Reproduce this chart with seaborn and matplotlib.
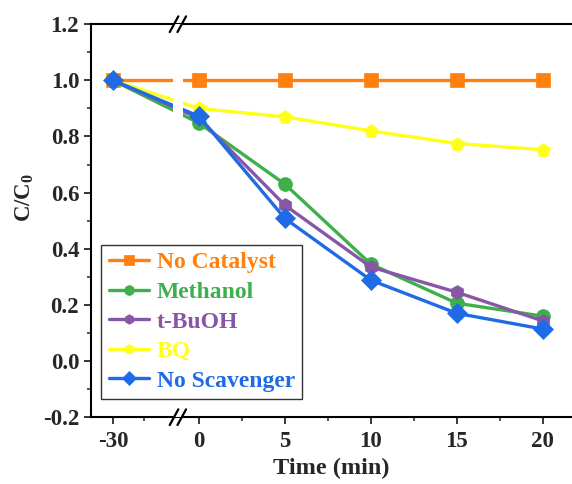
import numpy as np
import pandas as pd
import matplotlib
matplotlib.use("Agg")
import matplotlib.pyplot as plt
import seaborn as sns
from matplotlib.ticker import MultipleLocator, FixedLocator

# data
time_labels = ["-30", "0", "5", "10", "15", "20"]
time_pos = [-5, 0, 5, 10, 15, 20]   # -30 is drawn one step left of 0, past the axis break
series = ["No Catalyst", "Methanol", "t-BuOH", "BQ", "No Scavenger"]
no_catalyst = [1.0, 1.0, 1.0, 1.0, 1.0, 1.0]
methanol = [1.0, 0.848, 0.630, 0.345, 0.206, 0.160]
t_buoh = [1.0, 0.865, 0.555, 0.335, 0.245, 0.143]
bq = [1.0, 0.900, 0.870, 0.820, 0.775, 0.753]
no_scavenger = [1.0, 0.872, 0.508, 0.288, 0.170, 0.114]

colors = ["#FF800E", "#3DB04B", "#8856A7", "#FFFF1A", "#1F6BE6"]
markers = ["s", "o", "h", "p", "D"]

rows = []
for name, vals in zip(series, [no_catalyst, methanol, t_buoh, bq, no_scavenger]):
    for p, v in zip(time_pos, vals):
        rows.append({"Time": p, "C/C0": v, "Sample": name})
df = pd.DataFrame(rows)

sns.set_style("white")
plt.rcParams["font.family"] = ["Liberation Serif", "DejaVu Serif"]
plt.rcParams["font.weight"] = "bold"
plt.rcParams["mathtext.fontset"] = "custom"
plt.rcParams["mathtext.rm"] = "Liberation Serif:bold"
plt.rcParams["mathtext.it"] = "Liberation Serif:bold"

fig = plt.figure(figsize=(5.72, 4.84), dpi=100)
ax = fig.add_axes([0.159, 0.138, 0.841, 0.812])

sns.lineplot(
    data=df, x="Time", y="C/C0", hue="Sample", style="Sample",
    hue_order=series, style_order=series,
    palette=dict(zip(series, colors)),
    markers=dict(zip(series, markers)), dashes=False,
    linewidth=2.4, markersize=10, markeredgewidth=0.5,
    ax=ax, zorder=2,
)
for line, c in zip(ax.get_lines(), colors):
    line.set_markeredgecolor(c)

# white gap in the curves where the axis is broken
ax.axvspan(-1.5, -0.95, color="white", zorder=3, lw=0)

ax.set_xlim(-6.28, 21.69)
ax.set_ylim(-0.2, 1.2)
ax.xaxis.set_major_locator(FixedLocator(time_pos))
ax.set_xticklabels(time_labels)
ax.xaxis.set_minor_locator(FixedLocator([-3.2, 2.5, 7.5, 12.5, 17.5]))
ax.yaxis.set_major_locator(MultipleLocator(0.2))
ax.yaxis.set_minor_locator(MultipleLocator(0.1))
ax.yaxis.set_major_formatter(matplotlib.ticker.FormatStrFormatter("%.1f"))

ax.tick_params(axis="both", which="major", direction="out", length=5, width=1.3,
               labelsize=16.5, bottom=True, left=True, top=False, right=False)
ax.tick_params(axis="both", which="minor", direction="out", length=3, width=1.1,
               bottom=True, left=True, top=False, right=False)
ax.tick_params(axis="x", which="major", pad=5)
for lab in ax.get_xticklabels() + ax.get_yticklabels():
    lab.set_fontweight("bold")

for sp in ax.spines.values():
    sp.set_color("black")
    sp.set_linewidth(1.5)
ax.spines["right"].set_visible(False)

ax.set_xlabel("Time (min)", fontsize=17.5, fontweight="bold", labelpad=4)
ax.set_ylabel("C/C$_0$", fontsize=16.5, fontweight="bold")
ax.yaxis.set_label_coords(-0.115, 0.56)

# axis break marks on top and bottom spines
tr = ax.get_xaxis_transform()
for yb in (0.0, 1.0):
    for xc in (-1.45, -1.0):
        ax.plot([xc - 0.25, xc + 0.25], [yb - 0.02, yb + 0.02], color="black",
                lw=1.6, transform=tr, clip_on=False, zorder=5)

leg = ax.legend(loc="lower left", bbox_to_anchor=(0.012, 0.035), frameon=True,
                fancybox=False, edgecolor="black", handlelength=1.7,
                handletextpad=0.35, borderpad=0.3, labelspacing=0.34,
                borderaxespad=0.2, markerscale=0.7,
                prop={"family": "Liberation Serif", "weight": "bold", "size": 17})
leg.get_frame().set_linewidth(1.0)
for txt, c in zip(leg.get_texts(), colors):
    txt.set_color(c)
for h, c in zip(leg.legend_handles, colors):
    h.set_markeredgecolor(c)

fig.savefig("out.png", dpi=100, facecolor="white")
